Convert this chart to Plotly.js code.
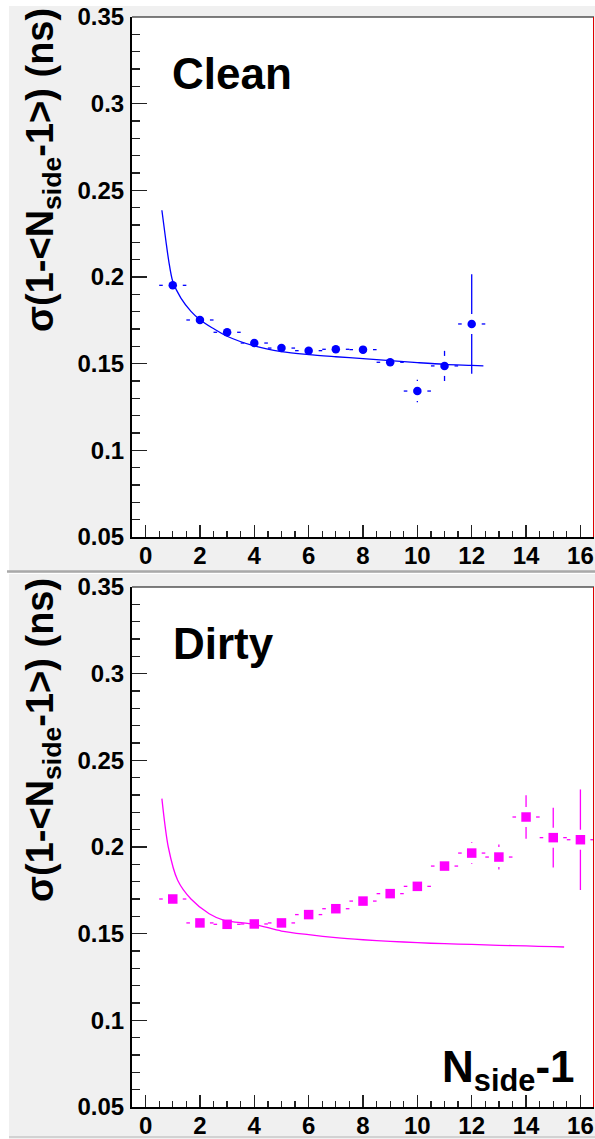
<!DOCTYPE html>
<html>
<head>
<meta charset="utf-8">
<script src="https://cdn.plot.ly/plotly-3.0.1.min.js"></script>
<style>html,body{margin:0;padding:0;background:#fff;}</style>
</head>
<body>
<div id="chart" style="width:595px;height:1139px;"></div>
<script>
// ---------- data ----------
const cleanX    = [1, 2, 3, 4, 5, 6, 7, 8, 9, 10, 11, 12];
const cleanY    = [0.1952, 0.1752, 0.1681, 0.1619, 0.1590, 0.1575, 0.1583, 0.1581, 0.1508, 0.1342, 0.1487, 0.1729];
const cleanErrY = [0.002, 0.002, 0.002, 0.002, 0.002, 0.002, 0.002, 0.002, 0.003, 0.0065, 0.0087, 0.0287];
const cleanErrX = [0.5, 0.5, 0.5, 0.5, 0.5, 0.5, 0.5, 0.5, 0.5, 0.5, 0.5, 0.5];

const dirtyX    = [1, 2, 3, 4, 5, 6, 7, 8, 9, 10, 11, 12, 13, 14, 15, 16];
const dirtyY    = [0.1700, 0.1562, 0.1554, 0.1556, 0.1562, 0.1610, 0.1644, 0.1688, 0.1731, 0.1773, 0.1890, 0.1965, 0.1942, 0.2173, 0.2054, 0.2042];
const dirtyErrY = [0.002, 0.002, 0.002, 0.002, 0.002, 0.002, 0.002, 0.002, 0.003, 0.003, 0.004, 0.0062, 0.0072, 0.0125, 0.0172, 0.029];
const dirtyErrX = [0.5, 0.5, 0.5, 0.5, 0.5, 0.5, 0.5, 0.5, 0.5, 0.5, 0.5, 0.5, 0.5, 0.5, 0.5, 0.5];

const cleanFitX = [0.6, 0.75, 0.85, 1.0, 1.3, 1.67, 2.0, 2.46, 3.0, 4, 5, 6, 7, 8, 9, 10, 11, 12, 12.43];
const cleanFitY = [0.2385, 0.2205, 0.2095, 0.1975, 0.1878, 0.1802, 0.1754, 0.1706, 0.1658, 0.1602, 0.1569, 0.1552, 0.1540, 0.1529, 0.1517, 0.1506, 0.1496, 0.1490, 0.1487];

const dirtyFitX = [0.6, 0.835, 1.18, 1.67, 2.34, 2.89, 4, 5, 6, 7, 8, 9, 10, 11, 12, 13, 14, 15, 15.4];
const dirtyFitY = [0.2279, 0.2000, 0.1808, 0.1700, 0.1615, 0.1577, 0.1554, 0.1515, 0.1494, 0.1477, 0.1465, 0.1456, 0.1448, 0.1442, 0.1438, 0.1433, 0.1429, 0.1425, 0.1423];

const xTickVals = [0, 2, 4, 6, 8, 10, 12, 14, 16];
const xTickText = ['0', '2', '4', '6', '8', '10', '12', '14', '16'];
const yTickVals = [0.05, 0.1, 0.15, 0.2, 0.25, 0.3, 0.35];
const yTickText = ['0.05', '0.1', '0.15', '0.2', '0.25', '0.3', '0.35'];

const panelLabels = ['Clean', 'Dirty'];
const yTitle = '\u03c3(1-&lt;N<sub>side</sub>-1&gt;) (ns)';
const xTitle = 'N<sub>side</sub>-1';

// ---------- geometry ----------
const W = 595, H = 1139, ML = 132, MR = 1, MT = 17, MB = 32;
const px2x = p => (p - ML) / (W - ML - MR);
const px2y = p => (H - MB - p) / (H - MT - MB);
const XR = [-0.5, 16.5], YR = [0.05, 0.35];
const gapX = 10 / ((W - ML - MR) / (XR[1] - XR[0]));       // 10 px in x units
const plotH = 520;
const gapY = 10 / (plotH / (YR[1] - YR[0]));                  // 10 px in y units

function errSegments(xs, ys, exs, eys) {
  const hx = [], hy = [], vx = [], vy = [];
  for (let i = 0; i < xs.length; i++) {
    const x = xs[i], y = ys[i], ex = exs[i], ey = eys[i];
    if (ex > gapX) {
      hx.push(x - ex, x - gapX, null, x + gapX, x + ex, null);
      hy.push(y, y, null, y, y, null);
    }
    if (ey > gapY) {
      vx.push(x, x, null, x, x, null);
      vy.push(y + ey, y + gapY, null, y - gapY, y - ey, null);
    }
  }
  return {x: hx.concat(vx), y: hy.concat(vy)};
}

const blue = '#0000ff', mag = '#ff00ff';
const ce = errSegments(cleanX, cleanY, cleanErrX, cleanErrY);
const de = errSegments(dirtyX, dirtyY, dirtyErrX, dirtyErrY);

const traces = [
  {x: cleanFitX, y: cleanFitY, type: 'scatter', mode: 'lines', line: {color: blue, width: 1.3, shape: 'spline', smoothing: 0.8}, xaxis: 'x', yaxis: 'y', hoverinfo: 'skip'},
  {x: ce.x, y: ce.y, type: 'scatter', mode: 'lines', line: {color: blue, width: 1.3}, xaxis: 'x', yaxis: 'y', hoverinfo: 'skip', connectgaps: false},
  {x: cleanX, y: cleanY, type: 'scatter', mode: 'markers', marker: {symbol: 'circle', size: 8.5, color: blue}, xaxis: 'x', yaxis: 'y'},
  {x: dirtyFitX, y: dirtyFitY, type: 'scatter', mode: 'lines', line: {color: mag, width: 1.3, shape: 'spline', smoothing: 0.8}, xaxis: 'x2', yaxis: 'y2', hoverinfo: 'skip'},
  {x: de.x, y: de.y, type: 'scatter', mode: 'lines', line: {color: mag, width: 1.3}, xaxis: 'x2', yaxis: 'y2', hoverinfo: 'skip', connectgaps: false},
  {x: dirtyX, y: dirtyY, type: 'scatter', mode: 'markers', marker: {symbol: 'square', size: 9.5, color: mag}, xaxis: 'x2', yaxis: 'y2'}
];

const FONT = 'Liberation Sans, Arial, Helvetica, sans-serif';
function xAxis(anchor) {
  return {
    anchor: anchor, domain: [0, 1], range: XR, tickmode: 'array', tickvals: xTickVals, ticktext: xTickText,
    ticks: 'inside', ticklen: 12, tickwidth: 1.5, tickcolor: '#222',
    minor: {tickmode: 'linear', tick0: 0, dtick: 0.5, ticks: 'inside', ticklen: 6, tickwidth: 1.3, tickcolor: '#222', showgrid: false},
    showline: true, linecolor: '#000', linewidth: 2, showgrid: false, zeroline: false,
    tickfont: {family: FONT, size: 24, weight: 'bold', color: '#000'}, ticklabelstandoff: -4, fixedrange: true
  };
}
function yAxis(anchor, dom) {
  return {
    anchor: anchor, domain: dom, range: YR, tickmode: 'array', tickvals: yTickVals, ticktext: yTickText,
    ticks: 'inside', ticklen: 15, tickwidth: 1.5, tickcolor: '#222',
    minor: {tickmode: 'linear', tick0: 0.05, dtick: 0.01, ticks: 'inside', ticklen: 7.5, tickwidth: 1.3, tickcolor: '#222', showgrid: false},
    showline: true, linecolor: '#000', linewidth: 2, showgrid: false, zeroline: false,
    tickfont: {family: FONT, size: 24, weight: 'bold', color: '#000'}, ticklabelstandoff: 1, fixedrange: true
  };
}

const topDom = [px2y(537), px2y(17)];
const botDom = [px2y(1107), px2y(587)];

const shapes = [
  {type: 'rect', xref: 'paper', yref: 'paper', x0: px2x(-5), x1: px2x(9), y0: px2y(1145), y1: px2y(-5), fillcolor: '#fff', line: {width: 0}, layer: 'below'},
  {type: 'rect', xref: 'paper', yref: 'paper', x0: px2x(-5), x1: px2x(600), y0: px2y(6), y1: px2y(-5), fillcolor: '#fff', line: {width: 0}, layer: 'below'},
  {type: 'line', xref: 'paper', yref: 'paper', x0: px2x(7), x1: px2x(600), y0: px2y(571.5), y1: px2y(571.5), line: {color: '#a9a9a9', width: 2.5}, layer: 'below'},
  {type: 'line', xref: 'paper', yref: 'paper', x0: px2x(9), x1: px2x(600), y0: px2y(573.5), y1: px2y(573.5), line: {color: '#ffffff', width: 1}, layer: 'below'},
  {type: 'line', xref: 'paper', yref: 'paper', x0: px2x(9), x1: px2x(600), y0: px2y(1137), y1: px2y(1137), line: {color: '#c8c8c8', width: 1.5}, layer: 'below'},
  {type: 'line', xref: 'paper', yref: 'paper', x0: 0, x1: 1, y0: topDom[1], y1: topDom[1], line: {color: '#000', width: 1.2}},
  {type: 'line', xref: 'paper', yref: 'paper', x0: 0, x1: 1, y0: botDom[1], y1: botDom[1], line: {color: '#000', width: 1.2}},
  {type: 'line', xref: 'paper', yref: 'paper', x0: px2x(593.5), x1: px2x(593.5), y0: topDom[0], y1: topDom[1], line: {color: '#e00000', width: 1}},
  {type: 'line', xref: 'paper', yref: 'paper', x0: px2x(593.5), x1: px2x(593.5), y0: botDom[0], y1: botDom[1], line: {color: '#e00000', width: 1}}
];

const annotations = [
  {text: '<b>' + panelLabels[0] + '</b>', xref: 'paper', yref: 'paper', x: px2x(170), y: px2y(74), xanchor: 'left', yanchor: 'middle', showarrow: false, font: {family: FONT, size: 44, color: '#000'}},
  {text: '<b>' + panelLabels[1] + '</b>', xref: 'paper', yref: 'paper', x: px2x(171), y: px2y(643), xanchor: 'left', yanchor: 'middle', showarrow: false, font: {family: FONT, size: 44, color: '#000'}},
  {text: '<b>' + yTitle + '</b>', xref: 'paper', yref: 'paper', x: px2x(43), y: px2y(6), xanchor: 'center', yanchor: 'top', textangle: -90, showarrow: false, font: {family: FONT, size: 38, color: '#000'}},
  {text: '<b>' + yTitle + '</b>', xref: 'paper', yref: 'paper', x: px2x(43), y: px2y(576), xanchor: 'center', yanchor: 'top', textangle: -90, showarrow: false, font: {family: FONT, size: 38, color: '#000'}},
  {text: '<b>' + xTitle + '</b>', xref: 'paper', yref: 'paper', x: px2x(577), y: px2y(1070), xanchor: 'right', yanchor: 'middle', showarrow: false, font: {family: FONT, size: 44, color: '#000'}}
];

const layout = {
  width: W, height: H,
  margin: {l: ML, r: MR, t: MT, b: MB, pad: 0},
  paper_bgcolor: '#f0f0f0', plot_bgcolor: '#ffffff',
  showlegend: false,
  font: {family: FONT, color: '#000'},
  xaxis: xAxis('y'), yaxis: yAxis('x', topDom),
  xaxis2: xAxis('y2'), yaxis2: yAxis('x2', botDom),
  shapes: shapes, annotations: annotations
};

Plotly.newPlot('chart', traces, layout, {displayModeBar: false, staticPlot: true});
</script>
</body>
</html>
